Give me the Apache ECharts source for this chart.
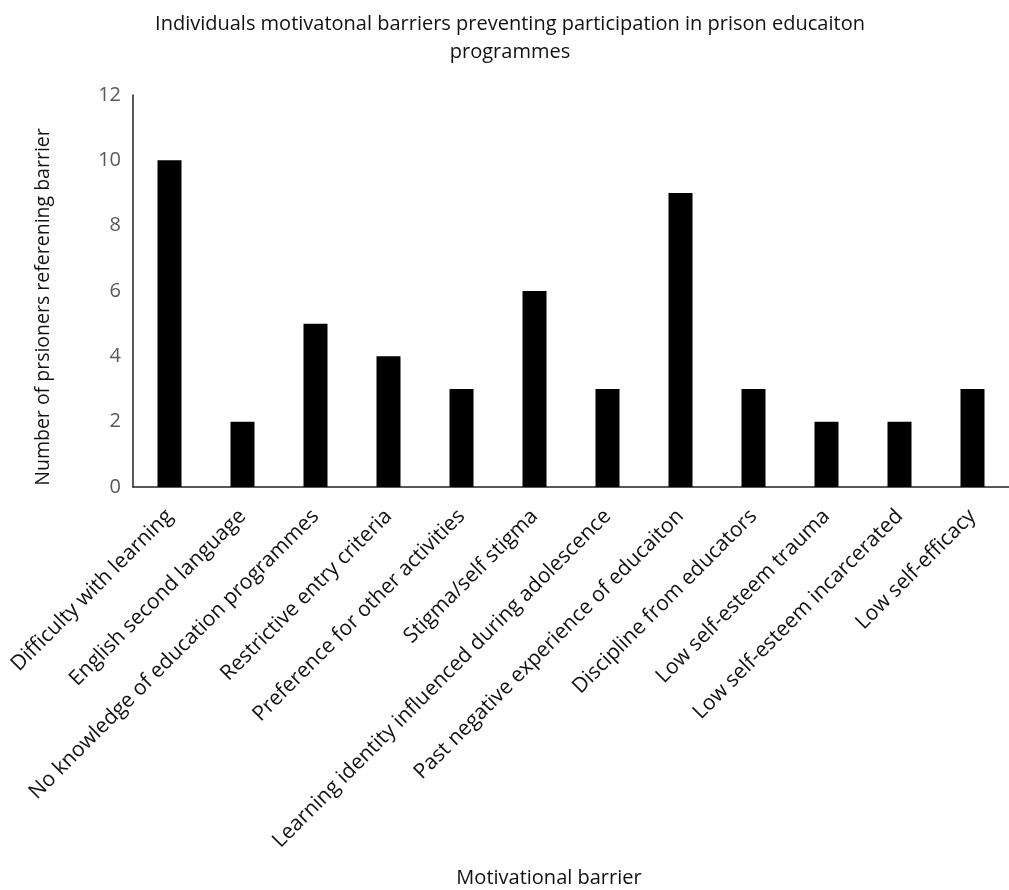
<!DOCTYPE html>
<html>
<head>
<meta charset="utf-8">
<script src="https://cdn.jsdelivr.net/npm/echarts@6/dist/echarts.min.js"></script>
<style>
  html, body { margin: 0; padding: 0; background: #fff; }
  #ch { width: 1009px; height: 890px; }
</style>
</head>
<body>
<div id="ch"></div>
<script>
var categories = ['Difficulty with learning', 'English second language', 'No knowledge of education programmes',
    'Restrictive entry criteria', 'Preference for other activities', 'Stigma/self stigma',
    'Learning identity influenced during adolescence', 'Past negative experience of educaiton',
    'Discipline from educators', 'Low self-esteem trauma', 'Low self-esteem incarcerated', 'Low self-efficacy'];
var counts = [10, 2, 5, 4, 3, 6, 3, 9, 3, 2, 2, 3];

var font = '"Open Sans", "Noto Sans", sans-serif';
var chart = echarts.init(document.getElementById('ch'));
var option = {
    animation: false,
    title: {
        text: 'Individuals motivatonal barriers preventing participation in prison educaiton\nprogrammes',
        left: 505,
        top: 5,
        textAlign: 'center',
        textStyle: { fontFamily: font, fontSize: 20, fontWeight: 'normal', color: '#111', lineHeight: 28 }
    },
    grid: { left: 133, top: 95, width: 888, height: 392 },
    xAxis: {
        type: 'category',
        data: categories,
        name: 'Motivational barrier',
        nameLocation: 'middle',
        nameGap: 381,
        nameTextStyle: { fontFamily: font, fontSize: 20, color: '#111', padding: [0, 44, 0, 0] },
        axisLine: { lineStyle: { color: '#222', width: 1.5 } },
        axisTick: { show: false },
        axisLabel: { rotate: 45, interval: 0, margin: 26, fontFamily: font, fontSize: 21, color: '#111' }
    },
    yAxis: {
        type: 'value',
        min: 0,
        max: 12,
        interval: 2,
        name: 'Number of prsioners referening barrier',
        nameLocation: 'middle',
        nameGap: 80,
        nameTextStyle: { fontFamily: font, fontSize: 19.5, color: '#111', padding: [0, 32, 0, 0] },
        axisLine: { show: true, lineStyle: { color: '#222', width: 1.5 } },
        axisTick: { show: false },
        splitLine: { show: false },
        axisLabel: { margin: 12, fontFamily: font, fontSize: 20, color: '#595959' }
    },
    series: [{
        type: 'bar',
        data: counts,
        barWidth: 24,
        itemStyle: { color: '#000' }
    }]
};
chart.setOption(option);
</script>
</body>
</html>
